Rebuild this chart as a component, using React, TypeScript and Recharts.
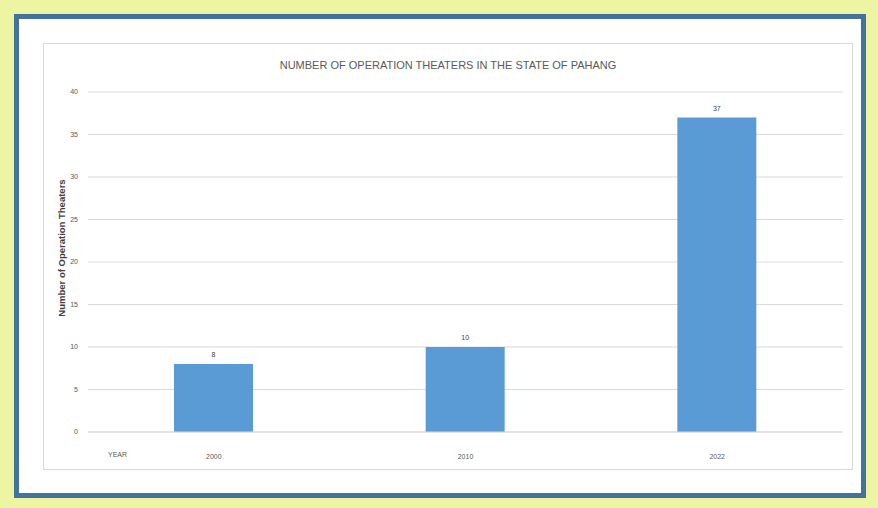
import React from 'react';
import { BarChart, Bar, XAxis, YAxis, CartesianGrid, LabelList, Label } from 'recharts';

const years = ['2000', '2010', '2022'];
const theaters = [8, 10, 37];
const yTicks = [0, 5, 10, 15, 20, 25, 30, 35, 40];

const data = years.map((y, i) => ({ year: y, value: theaters[i] }));

const font = '"Liberation Sans", Arial, sans-serif';

const App: React.FC = () => {
  return (
    <div style={{ position: 'absolute', left: 0, top: 0, width: 878, height: 508, background: '#edf5a2', fontFamily: font }}>
      <div
        style={{
          position: 'absolute', left: 14, top: 14, width: 852, height: 484,
          border: '5px solid #44729e', background: '#ffffff', boxSizing: 'border-box',
        }}
      />
      <div
        style={{
          position: 'absolute', left: 43, top: 43, width: 810, height: 427,
          border: '1px solid #d9d9d9', boxSizing: 'border-box',
        }}
      />
      <div
        style={{
          position: 'absolute', left: 0, top: 59, width: 896, textAlign: 'center',
          fontSize: 11, color: '#595959', fontFamily: font,
        }}
      >
        NUMBER OF OPERATION THEATERS IN THE STATE OF PAHANG
      </div>
      <div style={{ position: 'absolute', left: 108, top: 451, fontSize: 7, color: '#595959' }}>YEAR</div>
      <div style={{ position: 'absolute', left: 0, top: 0 }}>
        <BarChart
          width={878}
          height={508}
          data={data}
          margin={{ top: 92, right: 35, left: 0, bottom: 0 }}
          barSize={79}
        >
          <CartesianGrid vertical={false} stroke="#d9d9d9" />
          <XAxis
            dataKey="year"
            height={76}
            axisLine={{ stroke: '#d9d9d9' }}
            tickLine={false}
            tick={{ fontSize: 7, fill: '#595959', fontFamily: font }}
            tickMargin={16}
          />
          <YAxis
            width={88}
            domain={[0, 40]}
            ticks={yTicks}
            axisLine={false}
            tickLine={false}
            tick={{ fontSize: 7, fill: '#595959', fontFamily: font }}
            tickMargin={4}
          >
            <Label
              value="Number of Operation Theaters"
              angle={-90}
              position="center"
              dx={18}
              dy={-14}
              style={{ fontSize: 9.5, fontWeight: 'bold', fill: '#404040', fontFamily: font }}
            />
          </YAxis>
          <Bar dataKey="value" fill="#5b9bd5" isAnimationActive={false}>
            <LabelList dataKey="value" position="top" offset={7} style={{ fontSize: 7, fill: '#404040', fontFamily: font }} />
          </Bar>
        </BarChart>
      </div>
    </div>
  );
};

export default App;
